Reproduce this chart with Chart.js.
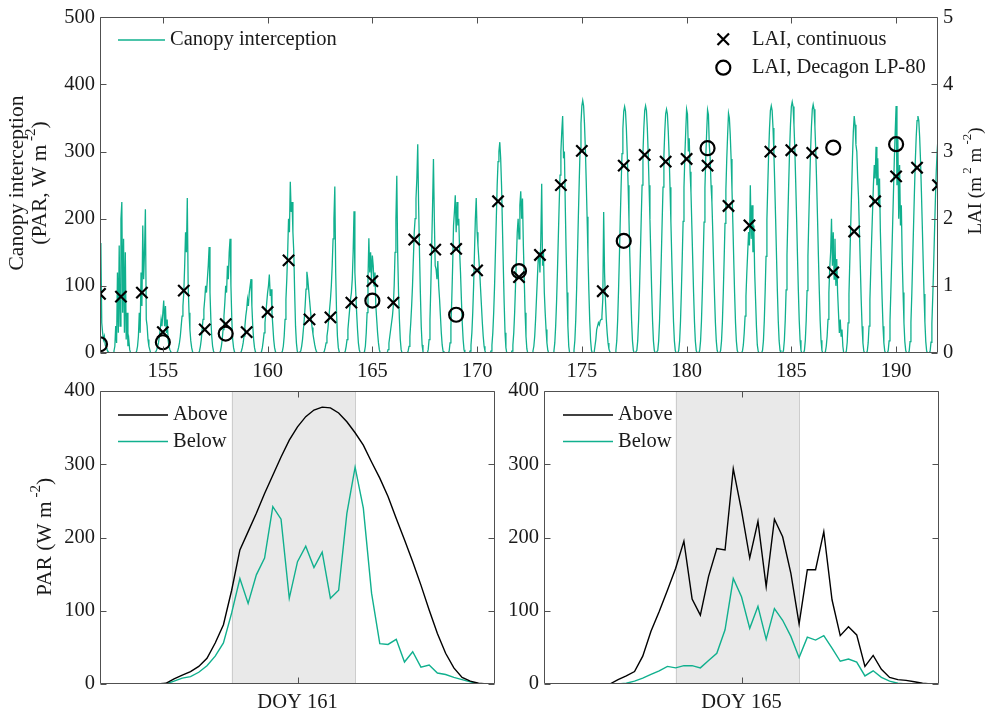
<!DOCTYPE html>
<html>
<head>
<meta charset="utf-8">
<script src="https://cdn.jsdelivr.net/npm/chart.js@4.4.0/dist/chart.umd.min.js"></script>
<style>
  body { margin: 0; background: #fff; }
  #wrap { position: relative; width: 987px; height: 714px; }
  canvas { position: absolute; left: 0; top: 0; }
</style>
</head>
<body>
<div id="wrap">
  <canvas id="topChart" width="987" height="714"></canvas>
  <canvas id="doy161" width="987" height="714"></canvas>
  <canvas id="doy165" width="987" height="714"></canvas>
</div>
<script>
// ---- data: top panel ----
const days = [152,153,154,155,156,157,158,159,160,161,162,163,164,165,166,167,168,169,170,171,
  172,173,174,175,176,177,178,179,180,181,182,183,184,185,186,187,188,189,190,191,192];
const topTicks = [155, 160, 165, 170, 175, 180, 185, 190];

// LAI (m2 m-2), one value per day
const laiContinuous = [0.88,0.84,0.90,0.31,0.93,0.35,0.43,0.31,0.61,1.38,0.50,0.53,0.75,1.07,0.75,1.69,
  1.54,1.55,1.23,2.26,1.13,1.46,2.50,3.01,0.92,2.79,2.95,2.85,2.89,2.79,2.19,1.90,3.00,3.02,2.98,1.20,
  1.81,2.26,2.63,2.76,2.50];
const decagonDays = [152, 155, 158, 165, 169, 172, 177, 181, 187, 190];
const laiDecagon = [0.13, 0.16, 0.29, 0.78, 0.57, 1.22, 1.67, 3.05, 3.06, 3.11];

// canopy interception (W m-2), hourly, each row runs from day-0.5 to day+0.46
const canopy = [
  [0,0,0,0,0,0,0,0,0,0,0,0,90,164,45,30,20,25,12,8,5,3,1,0],
  [0,0,0,0,3,10,40,15,120,30,160,40,200,225,60,170,30,150,20,60,10,20,5,0],
  [0,0,0,0,0,0,3,10,25,60,30,120,70,190,110,150,214,50,40,20,10,5,0,0],
  [0,0,0,0,2,5,10,15,25,35,50,40,60,78,40,70,30,50,20,10,5,2,0,0],
  [0,0,0,0,0,3,8,15,25,40,55,70,90,130,180,150,231,100,60,35,18,8,2,0],
  [0,0,0,0,0,0,3,10,20,35,50,65,80,100,90,110,130,158,90,50,25,10,3,0],
  [0,0,0,0,0,0,3,10,20,35,55,75,100,90,130,110,150,170,100,50,20,8,2,0],
  [0,0,0,0,0,0,3,8,15,25,40,55,65,80,70,90,100,110,70,40,20,8,2,0],
  [0,0,0,0,0,2,8,18,30,45,60,75,90,100,117,85,95,60,40,20,8,2,0,0],
  [0,0,0,0,0,3,10,25,50,80,110,150,200,180,255,210,225,180,150,90,40,15,3,0],
  [0,0,3,10,20,35,50,70,95,121,110,95,80,65,50,38,28,20,12,6,2,0,0,0],
  [0,0,0,0,0,3,8,15,25,35,50,65,80,100,130,170,200,248,120,60,25,8,2,0],
  [0,0,0,0,0,3,10,20,35,50,65,80,90,110,150,211,120,90,60,35,15,5,0,0],
  [0,0,0,2,10,30,60,110,171,120,150,110,145,130,100,120,70,50,30,15,5,0,0,0],
  [0,0,0,0,0,0,5,15,25,35,45,55,70,100,150,200,264,150,90,50,20,5,0,0],
  [0,0,0,0,0,3,10,25,45,70,100,140,180,200,230,260,311,220,150,90,40,12,2,0],
  [0,0,0,0,5,20,50,100,160,220,289,200,130,125,110,137,100,80,55,30,12,3,0,0],
  [0,0,0,0,3,15,40,80,130,190,210,235,180,225,190,200,150,120,80,45,20,5,0,0],
  [0,0,0,0,3,12,30,60,100,150,200,231,180,160,140,120,95,70,45,25,10,3,0,0],
  [0,0,0,0,3,12,30,60,100,150,200,250,285,300,314,290,250,190,130,75,30,8,0,0],
  [0,0,0,0,3,12,30,60,100,140,180,200,170,220,241,200,230,160,110,60,25,6,0,0],
  [0,0,0,0,3,10,25,50,80,110,140,150,120,170,252,130,150,90,60,35,15,4,0,0],
  [0,0,0,0,3,15,40,75,120,170,220,265,300,330,353,290,300,220,150,90,40,10,0,0],
  [0,0,0,4,19,49,94,147,203,256,305,342,368,376,368,342,305,256,203,147,94,49,19,4],
  [0,0,0,0,20,35,40,45,42,48,50,55,80,210,120,80,50,30,15,6,2,0,0,0],
  [0,0,0,4,18,48,92,143,198,250,297,334,360,367,360,334,297,250,198,143,92,48,18,4],
  [0,0,0,4,18,48,92,144,199,250,298,335,361,368,361,335,298,250,199,144,92,48,18,4],
  [0,0,0,4,18,47,91,142,196,247,294,330,356,363,356,330,294,247,196,142,91,47,18,4],
  [0,0,0,4,18,47,91,142,196,247,294,330,363,356,300,320,270,240,190,140,90,47,18,4],
  [0,0,0,4,18,47,90,141,195,246,293,329,362,355,310,290,250,225,180,130,85,45,18,4],
  [0,0,0,4,18,46,89,139,193,243,289,325,357,350,325,289,243,193,139,89,46,18,4,0],
  [0,0,0,0,3,12,30,55,85,120,150,180,160,250,170,220,150,190,120,80,40,12,3,0],
  [0,0,0,4,18,48,92,144,199,250,298,335,361,368,361,335,298,250,199,144,92,48,18,4],
  [0,0,0,4,19,49,94,146,202,254,303,340,367,374,367,340,303,254,202,146,94,49,19,4],
  [0,0,0,4,19,48,93,144,200,252,300,337,363,370,363,337,300,252,200,144,93,48,19,4],
  [0,0,0,2,10,25,50,90,127,150,200,130,180,110,170,100,140,90,60,30,50,25,35,10],
  [0,0,0,3,16,45,88,138,190,240,290,330,353,340,310,300,260,230,180,130,80,40,15,3],
  [0,0,0,3,15,40,80,125,170,210,250,280,260,307,250,290,220,260,180,130,80,40,15,3],
  [0,0,0,4,18,48,92,140,190,240,290,330,368,250,320,200,280,190,220,140,90,45,17,4],
  [0,0,0,3,17,46,88,138,190,240,286,321,346,353,346,321,286,240,190,138,88,46,17,3],
  [0,0,0,3,16,44,84,130,180,228,270,300,320,340,320,300,260,210,150,100,50,18,4,0]
];

// ---- data: bottom panels (PAR, W m-2, half-hourly) ----
const hours = [3.5,4,4.5,5,5.5,6,6.5,7,7.5,8,8.5,9,9.5,10,10.5,11,11.5,12,12.5,13,
  13.5,14,14.5,15,15.5,16,16.5,17,17.5,18,18.5,19,19.5,20,20.5,21,21.5,22,22.5,23,23.5];
const above161 = [0,1,7,12,17,24,35,56,81,128,183,208,233,260,285,310,333,351,365,374,
  378,377,370,358,343,326,303,281,256,226,197,167,135,101,69,42,22,9,4,1,0];
const below161 = [null,0,4,8,10,16,25,38,56,97,144,110,149,172,242,225,117,167,188,159,
  180,117,128,233,296,240,124,55,54,61,30,44,23,26,15,13,9,6,3,0,null];
const above165 = [0,0,6,11,17,38,72,99,128,158,195,116,94,147,185,183,294,237,172,222,
  133,225,201,151,82,156,156,208,115,66,78,67,24,39,20,9,6,5,3,1,0];
const below165 = [null,0,0,1,4,8,13,18,24,22,25,25,22,32,42,74,144,119,76,106,
  61,103,87,65,36,64,60,66,49,31,34,30,11,18,9,4,1,0,0,0,null];
const shade161 = [8, 15.5];
const shade165 = [8, 15.5];

// ---- style ----
const FONT = "'Liberation Serif', 'Times New Roman', serif";
const FS = 20.5;
const TEAL = '#10b08e';
const AXIS = '#505050';
const TEXT = '#1a1a1a';
const TL = 6;

Chart.defaults.font.family = FONT;
Chart.defaults.font.size = FS;
Chart.defaults.color = TEXT;

const crisp = v => Math.round(v) + 0.5;

// vertical text with superscripts, reads bottom to top
function vText(ctx, parts, cx, cy, size) {
  ctx.save();
  ctx.translate(cx, cy);
  ctx.rotate(-Math.PI / 2);
  ctx.textBaseline = 'middle';
  ctx.textAlign = 'left';
  ctx.fillStyle = TEXT;
  let total = 0;
  const w = parts.map(([t, sup]) => {
    ctx.font = (sup ? Math.round(size * 0.7) : size) + 'px ' + FONT;
    const m = ctx.measureText(t).width;
    total += m;
    return m;
  });
  let x = -total / 2;
  parts.forEach(([t, sup], i) => {
    ctx.font = (sup ? Math.round(size * 0.7) : size) + 'px ' + FONT;
    ctx.fillText(t, x, sup ? -size * 0.42 : 0);
    x += w[i];
  });
  ctx.restore();
}

function legendLine(ctx, x0, x1, y, color, text) {
  ctx.strokeStyle = color;
  ctx.lineWidth = 1.5;
  ctx.beginPath();
  ctx.moveTo(x0, y);
  ctx.lineTo(x1, y);
  ctx.stroke();
  ctx.fillStyle = TEXT;
  ctx.font = FS + 'px ' + FONT;
  ctx.textBaseline = 'middle';
  ctx.textAlign = 'left';
  ctx.fillText(text, x1 + 5, y);
}

function framePlugin(cfg) {
  return {
    id: 'frame',
    beforeDatasetsDraw(chart) {
      if (!cfg.shade) return;
      const { ctx, chartArea: a, scales } = chart;
      const x0 = scales.x.getPixelForValue(cfg.shade[0]);
      const x1 = scales.x.getPixelForValue(cfg.shade[1]);
      ctx.save();
      ctx.fillStyle = '#e9e9e9';
      ctx.fillRect(x0, a.top, x1 - x0, a.bottom - a.top);
      ctx.strokeStyle = '#cdcdcd';
      ctx.lineWidth = 1;
      ctx.beginPath();
      ctx.moveTo(crisp(x0), a.top); ctx.lineTo(crisp(x0), a.bottom);
      ctx.moveTo(crisp(x1), a.top); ctx.lineTo(crisp(x1), a.bottom);
      ctx.stroke();
      ctx.restore();
    },
    afterDraw(chart) {
      const { ctx, chartArea: a, scales } = chart;
      const L = Math.round(a.left) + 0.5, R = Math.round(a.right) - 0.5;
      const T = Math.round(a.top) + 0.5, B = Math.round(a.bottom) - 0.5;
      ctx.save();
      ctx.strokeStyle = AXIS;
      ctx.lineWidth = 1;
      ctx.beginPath();
      ctx.rect(L, T, R - L, B - T);
      scales.x.ticks.forEach(t => {
        const px = crisp(scales.x.getPixelForValue(t.value));
        ctx.moveTo(px, B); ctx.lineTo(px, B - TL);
        ctx.moveTo(px, T); ctx.lineTo(px, T + TL);
      });
      scales.y.ticks.forEach(t => {
        const py = crisp(scales.y.getPixelForValue(t.value));
        ctx.moveTo(L, py); ctx.lineTo(L + TL, py);
      });
      const rs = scales[cfg.right];
      rs.ticks.forEach(t => {
        const py = crisp(rs.getPixelForValue(t.value));
        ctx.moveTo(R, py); ctx.lineTo(R - TL, py);
      });
      ctx.stroke();
      cfg.titles.forEach(tt => vText(ctx, tt.parts, tt.x, tt.y, tt.size));
      cfg.legend(ctx);
      ctx.restore();
    }
  };
}

// ---- top panel ----
const canopyPoints = [];
days.forEach((d, i) => {
  canopy[i].forEach((v, k) => canopyPoints.push({ x: d - 0.5 + k / 24, y: v }));
});

new Chart(document.getElementById('topChart'), {
  type: 'line',
  data: {
    datasets: [
      {
        label: 'LAI, continuous',
        data: days.map((d, i) => ({ x: d, y: laiContinuous[i] })),
        yAxisID: 'y1', showLine: false, order: 0,
        pointStyle: 'crossRot', pointRadius: 8, pointBorderWidth: 2.2,
        borderColor: '#000', pointBorderColor: '#000'
      },
      {
        label: 'LAI, Decagon LP-80',
        data: decagonDays.map((d, i) => ({ x: d, y: laiDecagon[i] })),
        yAxisID: 'y1', showLine: false, order: 0,
        pointStyle: 'circle', pointRadius: 7, pointBorderWidth: 2.2,
        borderColor: '#000', pointBorderColor: '#000', pointBackgroundColor: 'rgba(0,0,0,0)'
      },
      {
        label: 'Canopy interception',
        data: canopyPoints,
        yAxisID: 'y', order: 2,
        borderColor: TEAL, borderWidth: 1.3, pointRadius: 0, tension: 0
      }
    ]
  },
  options: {
    responsive: false, animation: false, events: [],
    layout: { padding: { top: 13, bottom: 334, left: 0, right: 0 } },
    plugins: { legend: { display: false }, tooltip: { enabled: false } },
    scales: {
      x: {
        type: 'linear', min: 152, max: 192,
        afterBuildTicks: s => { s.ticks = topTicks.map(v => ({ value: v })); },
        afterFit: s => { s.height = 27; },
        grid: { display: false, drawTicks: false }, border: { display: false },
        ticks: { padding: 6, autoSkip: false, maxRotation: 0 }
      },
      y: {
        position: 'left', min: 0, max: 500,
        afterFit: s => { s.width = 100; },
        grid: { display: false, drawTicks: false }, border: { display: false },
        ticks: { stepSize: 100, padding: 5 }
      },
      y1: {
        position: 'right', min: 0, max: 5,
        afterFit: s => { s.width = 49; },
        grid: { display: false, drawTicks: false }, border: { display: false },
        ticks: { stepSize: 1, padding: 5 }
      }
    }
  },
  plugins: [framePlugin({
    right: 'y1',
    titles: [
      { parts: [['Canopy interception', false]], x: 17, y: 183, size: 21.5 },
      { parts: [['(PAR, W m', false], [' -2', true], [')', false]], x: 40, y: 183, size: 21.5 },
      { parts: [['LAI (m', false], [' 2', true], [' m', false], [' -2', true], [')', false]], x: 976, y: 181, size: 19 }
    ],
    legend: ctx => {
      legendLine(ctx, 118, 165, 40, TEAL, 'Canopy interception');
      ctx.strokeStyle = '#000';
      ctx.lineWidth = 2.2;
      ctx.beginPath();
      ctx.moveTo(717.5, 33.5); ctx.lineTo(729, 45);
      ctx.moveTo(729, 33.5); ctx.lineTo(717.5, 45);
      ctx.stroke();
      ctx.beginPath();
      ctx.arc(723.3, 67.7, 7, 0, Math.PI * 2);
      ctx.stroke();
      ctx.fillStyle = TEXT;
      ctx.font = FS + 'px ' + FONT;
      ctx.textBaseline = 'middle';
      ctx.fillText('LAI, continuous', 752, 40);
      ctx.fillText('LAI, Decagon LP-80', 752, 68);
    }
  })]
});

// ---- bottom panels ----
function dayChart(id, label, above, below, shade, padLeft, padRight, legendX, withTitle) {
  new Chart(document.getElementById(id), {
    type: 'line',
    data: {
      datasets: [
        { label: 'Above', data: hours.map((h, i) => ({ x: h, y: above[i] })),
          borderColor: '#000', borderWidth: 1.4, pointRadius: 0, tension: 0, order: 0 },
        { label: 'Below', data: hours.map((h, i) => ({ x: h, y: below[i] })),
          borderColor: TEAL, borderWidth: 1.4, pointRadius: 0, tension: 0, order: 1 }
      ]
    },
    options: {
      responsive: false, animation: false, events: [],
      layout: { padding: { top: 391, bottom: 0, left: padLeft, right: padRight } },
      plugins: { legend: { display: false }, tooltip: { enabled: false } },
      scales: {
        x: {
          type: 'linear', min: 0, max: 24,
          afterBuildTicks: s => { s.ticks = [{ value: 12 }]; },
          afterFit: s => { s.height = 30; },
          grid: { display: false, drawTicks: false }, border: { display: false },
          ticks: { padding: 6, autoSkip: false, maxRotation: 0, callback: () => label }
        },
        y: {
          min: 0, max: 400,
          afterFit: s => { s.width = 100; },
          grid: { display: false, drawTicks: false }, border: { display: false },
          ticks: { stepSize: 100, padding: 5 }
        }
      }
    },
    plugins: [framePlugin({
      right: 'y',
      shade: shade,
      titles: withTitle ? [{ parts: [['PAR (W m', false], [' -2', true], [')', false]], x: 45, y: 537, size: 21.5 }] : [],
      legend: ctx => {
        legendLine(ctx, legendX, legendX + 50, 415, '#000', 'Above');
        legendLine(ctx, legendX, legendX + 50, 441.5, TEAL, 'Below');
      }
    })]
  });
}

dayChart('doy161', 'DOY 161', above161, below161, shade161, 0, 492, 118, true);
dayChart('doy165', 'DOY 165', above165, below165, shade165, 444, 48, 563, false);
</script>
</body>
</html>
